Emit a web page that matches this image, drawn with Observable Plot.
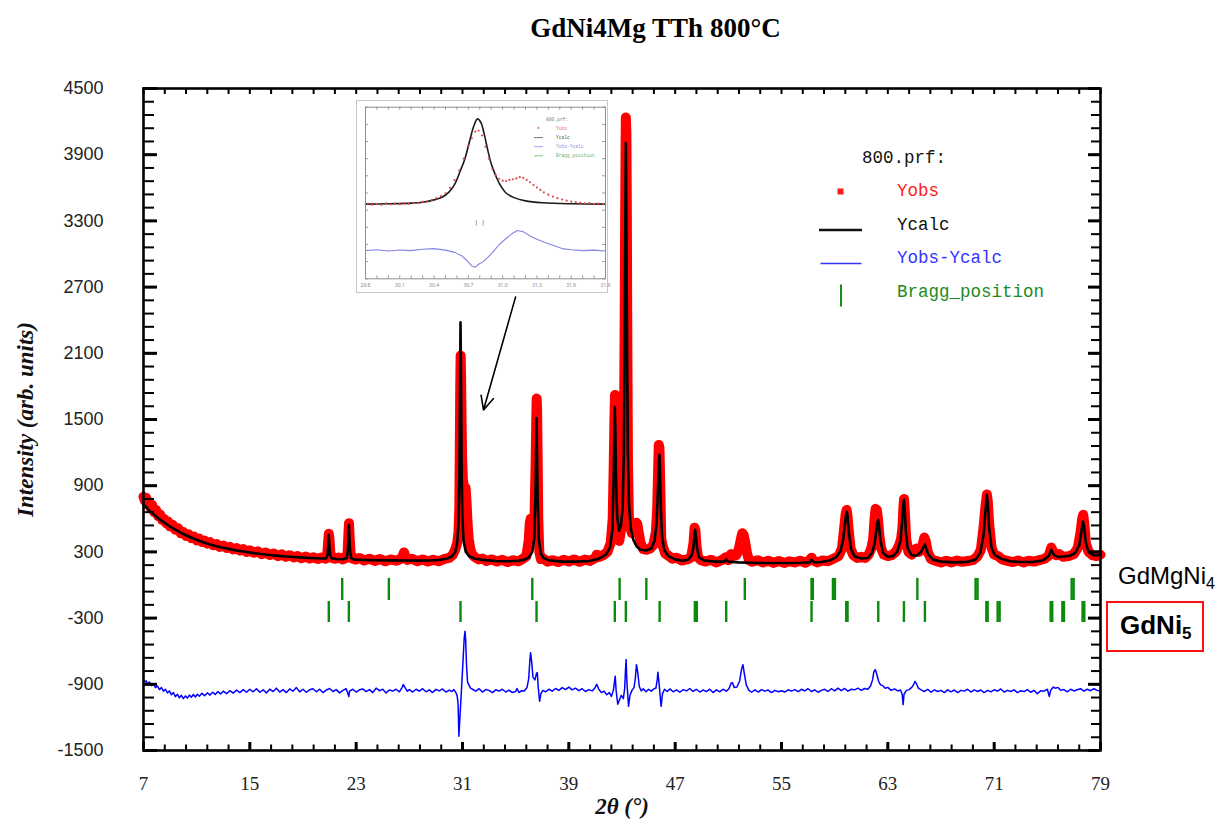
<!DOCTYPE html>
<html><head><meta charset="utf-8">
<script src="https://cdn.jsdelivr.net/npm/d3@7"></script>
<script src="https://cdn.jsdelivr.net/npm/@observablehq/plot@0.6"></script>
<style>
body{margin:0;background:#fff;}
#wrap{position:relative;width:1229px;height:827px;overflow:hidden;background:#fff;}
#main{position:absolute;left:0;top:0;}
#inset{position:absolute;left:356px;top:100px;width:250px;height:191px;border:1px solid #c8c8c8;background:#fff;}
#overlay{position:absolute;left:0;top:0;pointer-events:none;}
</style></head><body>
<div id="wrap"><div id="main"></div><div id="inset"></div><svg id="overlay" width="1229" height="827"></svg></div>
<script>
// ---------- data ----------
const title = "GdNi4Mg TTh 800°C";
const yLabel = "Intensity (arb. units)";
const xLabel = "2θ (°)";
const xTicks = [7, 15, 23, 31, 39, 47, 55, 63, 71, 79];
const yTicks = [-1500, -900, -300, 300, 900, 1500, 2100, 2700, 3300, 3900, 4500];

// observed intensity [2theta, counts]
const yobs = [[7.0,800],[7.1,765],[7.2,790],[7.3,730],[7.4,755],[7.5,705],[7.65,725],[7.8,660],[7.95,680],[8.1,625],[8.25,640],[8.4,590],[8.55,600],[8.7,560],[8.85,575],[9.0,530],[9.2,545],[9.4,500],[9.6,515],[9.8,470],[10.0,480],[10.2,445],[10.4,458],[10.6,425],[10.8,438],[11.0,405],[11.2,420],[11.4,390],[11.6,402],[11.8,375],[12.0,388],[12.25,360],[12.5,372],[12.75,345],[13.0,358],[13.25,335],[13.5,346],[13.75,322],[14.0,335],[14.25,312],[14.5,325],[14.75,300],[15.0,315],[15.3,292],[15.6,305],[15.9,280],[16.2,295],[16.5,272],[16.8,285],[17.1,262],[17.4,278],[17.7,255],[18.0,270],[18.3,250],[18.6,262],[18.9,242],[19.2,258],[19.5,240],[19.8,252],[20.1,235],[20.4,250],[20.7,238],
[20.82,270],[20.9,400],[20.94,465],[20.99,420],[21.05,300],[21.15,248],[21.4,238],[21.7,250],[22.0,232],[22.25,245],[22.36,300],[22.42,470],[22.46,560],[22.51,430],[22.58,290],[22.7,240],[22.95,230],[23.25,245],[23.6,222],[24.0,238],[24.4,218],[24.8,235],[25.2,215],[25.6,232],[26.0,220],[26.35,235],[26.5,265],[26.6,295],[26.7,260],[26.85,228],[27.2,238],[27.6,215],[28.0,232],[28.4,212],[28.8,228],[29.2,215],[29.6,235],[30.0,245],[30.25,270],[30.45,320],[30.6,380],[30.7,480],[30.76,700],[30.8,1300],[30.83,1800],[30.86,2080],[30.89,1900],[30.93,1500],[30.97,1150],[31.03,950],[31.1,900],[31.17,870],[31.23,880],[31.3,760],[31.38,560],[31.47,420],[31.58,330],[31.7,285],[31.9,255],[32.2,232],[32.5,240],[32.8,218],[33.2,232],[33.6,212],[34.0,228],[34.4,208],[34.8,225],[35.2,215],[35.5,235],[35.8,260],[35.98,400],[36.06,560],[36.13,600],[36.22,560],[36.32,500],[36.42,620],[36.5,1100],[36.55,1500],[36.58,1690],[36.61,1600],[36.65,1200],[36.7,600],[36.78,300],[36.9,235],[37.1,238],[37.4,212],[37.8,225],[38.2,208],[38.6,228],[39.0,212],[39.4,232],[39.8,210],[40.2,230],[40.6,218],[41.0,245],[41.1,275],[41.3,255],[41.6,270],[41.9,300],[42.15,380],[42.3,600],[42.38,1100],[42.43,1500],[42.47,1722],[42.5,1650],[42.55,1300],[42.62,700],[42.7,420],[42.8,400],[42.95,520],[43.07,700],[43.15,1300],[43.2,2400],[43.24,3400],[43.27,4000],[43.29,4237],[43.31,4160],[43.33,4100],[43.36,3500],[43.4,2200],[43.45,1100],[43.52,600],[43.62,520],[43.75,470],[43.9,480],[44.0,530],[44.08,565],[44.15,555],[44.25,480],[44.4,380],[44.6,325],[44.85,320],[45.1,330],[45.35,360],[45.55,480],[45.65,700],[45.72,1050],[45.77,1270],[45.82,1240],[45.88,900],[45.95,420],[46.05,360],[46.25,285],[46.5,265],[46.8,238],[47.1,248],[47.5,222],[47.9,232],[48.2,250],[48.38,380],[48.46,520],[48.52,500],[48.6,360],[48.72,250],[48.95,225],[49.3,212],[49.7,228],[50.1,205],[50.5,225],[50.8,250],[51.0,225],[51.2,280],[51.35,265],[51.6,270],[51.8,330],[51.95,420],[52.05,470],[52.15,455],[52.28,380],[52.4,290],[52.55,225],[52.8,210],[53.2,225],[53.6,205],[54.0,220],[54.4,200],[54.8,218],[55.2,200],[55.6,215],[56.0,205],[56.4,220],[56.8,202],[57.1,225],[57.26,248],[57.4,220],[57.7,205],[58.1,222],[58.5,215],[58.9,238],[59.3,262],[59.55,330],[59.72,520],[59.82,640],[59.9,680],[59.97,620],[60.05,500],[60.2,330],[60.4,270],[60.7,245],[61.0,255],[61.3,245],[61.55,275],[61.75,330],[61.9,420],[62.0,600],[62.08,690],[62.17,680],[62.26,600],[62.36,450],[62.5,330],[62.7,275],[63.0,262],[63.3,270],[63.6,300],[63.85,360],[64.0,420],[64.1,520],[64.17,700],[64.22,780],[64.28,660],[64.38,420],[64.55,300],[64.8,275],[65.0,320],[65.15,330],[65.35,300],[65.6,360],[65.75,430],[65.85,400],[66.0,300],[66.25,235],[66.6,218],[67.0,205],[67.4,220],[67.8,205],[68.2,222],[68.6,210],[69.0,218],[69.4,225],[69.75,260],[70.0,320],[70.2,520],[70.35,720],[70.45,820],[70.52,760],[70.62,560],[70.8,340],[71.0,275],[71.3,262],[71.6,232],[72.0,218],[72.4,208],[72.8,222],[73.2,205],[73.6,220],[74.0,212],[74.4,225],[74.8,238],[75.1,265],[75.3,340],[75.45,300],[75.65,270],[75.9,280],[76.2,255],[76.6,262],[77.0,280],[77.3,340],[77.5,480],[77.62,600],[77.7,636],[77.78,560],[77.9,380],[78.1,300],[78.4,270],[78.7,262],[79.0,275]];

// calculated profile [2theta, counts]
const ycalc = [[7.0,730],[7.5,668],[8.0,615],[8.5,570],[9.0,530],[9.5,495],[10.0,462],[10.5,435],[11.0,410],[11.5,388],[12.0,368],[12.5,352],[13.0,338],[13.5,325],[14.0,313],[14.5,303],[15.0,294],[15.5,286],[16.0,279],[16.5,272],[17.0,266],[17.5,261],[18.0,256],[18.5,252],[19.0,248],[19.5,245],[20.0,242],[20.5,240],[20.75,241],[20.84,270],[20.9,360],[20.94,455],[20.98,360],[21.04,270],[21.15,242],[21.5,236],[22.0,234],[22.3,245],[22.38,320],[22.42,430],[22.45,545],[22.49,430],[22.54,320],[22.62,245],[22.8,232],[23.5,228],[24.5,225],[25.5,223],[26.5,222],[27.5,221],[28.5,222],[29.2,226],[29.8,238],[30.2,258],[30.45,300],[30.6,380],[30.7,560],[30.77,1000],[30.81,1700],[30.85,2380],[30.89,1800],[30.93,1100],[30.99,620],[31.08,400],[31.25,300],[31.5,260],[31.9,240],[32.5,228],[33.5,218],[34.5,215],[35.2,220],[35.7,232],[36.0,250],[36.25,300],[36.4,420],[36.49,800],[36.54,1250],[36.57,1512],[36.6,1250],[36.65,800],[36.74,420],[36.88,290],[37.1,245],[37.5,225],[38.5,212],[39.5,212],[40.5,218],[41.2,235],[41.8,275],[42.1,340],[42.28,500],[42.38,1000],[42.43,1400],[42.46,1612],[42.5,1400],[42.56,900],[42.65,600],[42.78,490],[42.92,540],[43.05,700],[43.14,1200],[43.2,2200],[43.25,3300],[43.29,4005],[43.33,3300],[43.38,2200],[43.44,1200],[43.53,720],[43.68,500],[43.85,410],[44.1,350],[44.4,320],[44.8,312],[45.2,330],[45.45,400],[45.6,560],[45.7,850],[45.77,1100],[45.82,1180],[45.87,1000],[45.93,650],[46.02,430],[46.2,310],[46.5,262],[47.0,232],[47.6,220],[48.0,232],[48.25,270],[48.38,350],[48.46,470],[48.5,500],[48.56,450],[48.65,330],[48.8,250],[49.2,222],[50.0,212],[50.7,212],[50.84,232],[51.0,212],[51.8,205],[52.5,202],[53.5,200],[54.5,200],[55.5,200],[56.5,202],[57.1,205],[57.26,228],[57.45,205],[58.0,208],[58.6,222],[59.1,250],[59.45,310],[59.65,420],[59.78,560],[59.86,640],[59.92,663],[59.98,610],[60.08,460],[60.25,320],[60.5,260],[61.0,240],[61.5,245],[61.8,290],[62.0,370],[62.12,480],[62.2,560],[62.28,590],[62.34,530],[62.45,400],[62.65,290],[63.0,255],[63.4,262],[63.7,300],[63.95,400],[64.08,580],[64.16,720],[64.21,772],[64.27,680],[64.36,480],[64.5,330],[64.8,268],[65.2,268],[65.5,300],[65.68,340],[65.79,365],[65.88,335],[66.05,275],[66.4,230],[67.0,212],[68.0,205],[69.0,210],[69.6,230],[69.95,290],[70.2,450],[70.35,680],[70.45,817],[70.52,740],[70.62,520],[70.8,340],[71.05,270],[71.3,255],[71.6,235],[72.2,215],[73.0,208],[74.0,210],[74.7,225],[75.1,260],[75.3,318],[75.5,270],[75.8,255],[76.2,258],[76.7,265],[77.1,290],[77.4,360],[77.58,500],[77.68,572],[77.76,530],[77.9,380],[78.1,300],[78.5,268],[79.0,272]];

// Yobs - Ycalc (plotted with offset) [2theta, counts]
const ydiff = [[7.0,-860],[7.1,-880],[7.2,-868],[7.3,-895],[7.45,-880],[7.6,-912],[7.75,-898],[7.9,-930],[8.05,-915],[8.2,-948],[8.35,-930],[8.5,-962],[8.65,-945],[8.8,-978],[8.95,-960],[9.1,-995],[9.25,-975],[9.4,-1012],[9.55,-990],[9.7,-1022],[9.85,-1000],[10.0,-1030],[10.15,-1005],[10.3,-1025],[10.45,-998],[10.6,-1018],[10.75,-992],[10.9,-1015],[11.05,-990],[11.2,-1008],[11.4,-982],[11.6,-1003],[11.8,-978],[12.0,-998],[12.2,-972],[12.4,-992],[12.6,-966],[12.8,-988],[13.0,-962],[13.25,-985],[13.5,-958],[13.75,-980],[14.0,-952],[14.25,-975],[14.5,-948],[14.75,-972],[15.0,-945],[15.25,-968],
[15.5,-940],[15.75,-972],[16.0,-950],[16.25,-978],[16.5,-944],[16.75,-966],[17.0,-935],[17.25,-970],[17.5,-948],[17.75,-975],[18.0,-942],[18.25,-962],[18.5,-930],[18.75,-968],[19.0,-945],[19.25,-972],[19.5,-950],[19.75,-940],[20.0,-968],[20.25,-945],[20.5,-975],[20.75,-952],[21.0,-938],[21.25,-965],[21.5,-948],[21.75,-978],[22.0,-955],[22.25,-940],[22.45,-1010],[22.5,-962],[22.75,-945],[23.0,-970],[23.25,-950],[23.5,-942],[23.75,-966],[24.0,-948],[24.25,-975],[24.5,-935],[24.75,-958],[25.0,-944],[25.25,-978],[25.5,-952],[25.75,-962],[26.0,-945],[26.25,-968],[26.45,-930],[26.55,-903],[26.7,-935],[26.85,-962],
[27.0,-948],[27.25,-970],[27.5,-945],[27.75,-962],[28.0,-940],[28.25,-968],[28.5,-950],[28.75,-975],[29.0,-946],[29.25,-960],[29.5,-942],[29.75,-970],[30.0,-952],[30.2,-966],[30.35,-948],[30.5,-975],[30.6,-1005],[30.67,-1080],[30.73,-1370],[30.78,-1250],[30.84,-1130],[30.9,-1000],[30.98,-820],[31.06,-640],[31.13,-480],[31.19,-420],[31.24,-500],[31.3,-720],[31.38,-880],[31.48,-905],[31.6,-935],[31.75,-945],
[32.0,-962],[32.25,-940],[32.5,-970],[32.75,-948],[33.0,-955],[33.25,-975],[33.5,-950],[33.75,-962],[34.0,-945],[34.25,-970],[34.5,-952],[34.75,-975],[35.0,-965],[35.1,-938],[35.25,-975],[35.45,-958],[35.65,-960],[35.85,-930],[35.98,-850],[36.06,-700],[36.12,-613],[36.2,-690],[36.3,-835],[36.45,-860],[36.57,-800],[36.63,-794],[36.7,-930],[36.8,-1054],[36.9,-985],[37.05,-955],[37.25,-968],
[37.5,-945],[37.75,-962],[38.0,-938],[38.25,-955],[38.5,-930],[38.75,-948],[39.0,-925],[39.25,-950],[39.5,-935],[39.75,-958],[40.0,-940],[40.25,-965],[40.5,-948],[40.75,-960],[40.95,-935],[41.1,-900],[41.25,-945],[41.45,-975],[41.65,-962],[41.85,-995],[42.05,-975],[42.2,-1010],[42.35,-955],[42.49,-828],[42.56,-960],[42.68,-1080],[42.8,-1045],[42.95,-1000],[43.1,-1030],[43.2,-940],[43.26,-780],[43.31,-676],[43.37,-880],[43.49,-1100],[43.6,-1000],[43.75,-955],[43.9,-930],[44.0,-850],[44.09,-722],[44.18,-790],[44.3,-920],[44.45,-960],[44.6,-940],[44.8,-968],[45.0,-945],[45.2,-962],[45.4,-940],[45.55,-935],[45.65,-860],[45.7,-790],[45.78,-880],[45.94,-1100],[46.05,-985],[46.2,-945],[46.4,-965],
[46.6,-942],[46.85,-968],[47.1,-950],[47.35,-972],[47.6,-948],[47.85,-960],[48.1,-938],[48.35,-965],[48.6,-945],[48.85,-970],[49.1,-952],[49.35,-966],[49.6,-944],[49.85,-975],[50.1,-950],[50.35,-968],[50.6,-945],[50.85,-962],[51.05,-940],[51.2,-890],[51.3,-885],[51.45,-930],[51.65,-925],[51.85,-870],[52.0,-760],[52.1,-722],[52.2,-800],[52.35,-905],[52.55,-955],[52.75,-972],[53.0,-950],
[53.25,-970],[53.5,-948],[53.75,-962],[54.0,-952],[54.25,-975],[54.5,-955],[54.75,-968],[55.0,-958],[55.25,-970],[55.5,-950],[55.75,-962],[56.0,-948],[56.25,-966],[56.5,-945],[56.75,-960],[57.0,-940],[57.25,-965],[57.5,-950],[57.75,-972],[58.0,-955],[58.25,-945],[58.5,-965],[58.75,-940],[59.0,-960],[59.25,-935],[59.5,-958],[59.75,-938],[60.0,-962],[60.25,-945],[60.5,-950],[60.75,-935],[61.0,-955],[61.25,-938],[61.5,-945],[61.7,-915],[61.85,-860],[61.95,-785],[62.05,-767],[62.15,-800],[62.3,-870],[62.45,-905],[62.6,-910],[62.8,-935],[63.0,-928],[63.25,-955],[63.5,-942],[63.75,-960],[63.95,-952],[64.08,-990],[64.15,-1084],[64.22,-990],[64.4,-955],[64.6,-948],[64.8,-928],[64.95,-900],[65.05,-873],[65.15,-895],[65.3,-935],[65.5,-950],[65.75,-965],
[66.0,-945],[66.25,-972],[66.5,-950],[66.75,-965],[67.0,-955],[67.25,-975],[67.5,-950],[67.75,-968],[68.0,-952],[68.25,-975],[68.5,-955],[68.75,-962],[69.0,-945],[69.25,-970],[69.5,-950],[69.75,-965],[70.0,-952],[70.25,-975],[70.5,-955],[70.75,-968],[71.0,-950],[71.25,-962],[71.5,-942],[71.75,-970],[72.0,-955],[72.25,-965],[72.5,-950],[72.75,-975],[73.0,-958],[73.25,-966],[73.5,-948],[73.75,-972],[74.0,-955],[74.25,-985],[74.5,-958],[74.75,-962],[75.0,-945],[75.15,-1010],[75.25,-955],[75.45,-925],[75.6,-935],[75.8,-928],[76.0,-955],[76.25,-948],[76.5,-968],[76.75,-945],[77.0,-960],[77.25,-950],[77.5,-940],[77.75,-962],[78.0,-945],[78.25,-958],[78.5,-940],[78.75,-955],[79.0,-962]];

// Bragg positions (2theta)
const braggGdMgNi4 = [21.95,25.46,36.25,42.82,44.83,52.24,57.26,57.36,58.87,59.02,65.22,69.6,69.75,76.83,76.98];
const braggGdNi5 = [20.94,22.45,30.85,36.57,42.46,43.29,45.83,48.48,48.63,50.84,57.26,59.87,59.97,62.28,64.21,65.79,70.41,70.51,71.26,71.41,75.25,75.37,76.13,76.25,77.65,77.78];
const phaseNames = ["GdMgNi", "4", "GdNi", "5"];

// arrow annotation (data coordinates)
const arrowAnno = [{x1: 34.99, y1: 2609, x2: 32.58, y2: 1586}];

// legend
const legendTitle = "800.prf:";
const legendItems = [
  {label: "Yobs", color: "#ff1a1a", kind: "dot"},
  {label: "Ycalc", color: "#111111", kind: "line"},
  {label: "Yobs-Ycalc", color: "#3434ff", kind: "thin"},
  {label: "Bragg_position", color: "#1d8a1d", kind: "tick"}
];

// inset (zoom around 31°), arbitrary units
const insetXTicks = [29.8, 30.1, 30.4, 30.7, 31.0, 31.3, 31.6, 31.9];
const insetCalc = [[29.8,43.5],[30.0,43.7],[30.2,44.1],[30.3,44.6],[30.4,46],[30.47,47.5],[30.53,50.5],[30.58,55],[30.63,63],[30.67,70],[30.71,80],[30.75,89.5],[30.78,93.2],[30.81,91],[30.84,84],[30.87,75],[30.9,67],[30.94,60],[30.98,54.5],[31.03,50],[31.1,47.3],[31.2,45.4],[31.35,44.3],[31.6,43.7],[31.9,43.5]];
const insetObs = [[29.82,43.8],[29.86,43.2],[29.9,43.6],[29.94,43.1],[29.98,43.9],[30.02,43.4],[30.06,43.8],[30.1,43.5],[30.14,44.0],[30.18,43.7],[30.22,44.3],[30.26,44.1],[30.3,44.8],[30.34,45.2],[30.38,45.9],[30.42,47.0],[30.46,48.2],[30.5,49.8],[30.54,53],[30.58,57.5],[30.62,63],[30.66,70],[30.7,77.5],[30.73,82],[30.76,85.8],[30.79,86.4],[30.82,83.5],[30.85,77],[30.88,70],[30.91,64],[30.94,60.5],[30.97,58.3],[31.0,57.2],[31.03,57.0],[31.06,57.6],[31.09,58.0],[31.12,58.5],[31.15,59.2],[31.18,58.8],[31.21,57.6],[31.24,56.2],[31.27,54.6],[31.3,53.2],[31.33,51.8],[31.36,50.4],[31.4,49.0],[31.44,47.9],[31.48,47.0],[31.52,46.2],[31.56,45.5],[31.6,45.0],[31.64,44.6],[31.68,44.3],[31.72,44.0],[31.76,44.1],[31.8,43.7],[31.84,43.8],[31.88,43.5]];
const insetDiff = [[29.8,16.5],[29.9,16.9],[30.0,16.2],[30.1,16.8],[30.2,16.4],[30.3,17.2],[30.4,17.6],[30.5,16.7],[30.58,15.4],[30.64,13.5],[30.69,10.5],[30.73,7.5],[30.76,6.8],[30.79,8.5],[30.83,10],[30.87,12.5],[30.92,16],[30.97,20],[31.03,23.5],[31.08,26.2],[31.13,28.1],[31.18,27.4],[31.24,25],[31.3,23],[31.37,21.2],[31.44,19.5],[31.52,17.6],[31.6,16.9],[31.7,16.4],[31.8,16.7],[31.9,16.2]];
const insetBragg = [30.77, 30.83];
const insetLegendItems = [
  {label: "Yobs", color: "#e07070"},
  {label: "Ycalc", color: "#555555"},
  {label: "Yobs-Ycalc", color: "#8a8ae8"},
  {label: "Bragg_position", color: "#70b070"}
];

// ---------- main chart ----------
const W = 1229, H = 827, ML = 143, MR = 129, MT = 88, MB = 77;
const PW = W - ML - MR, PH = H - MT - MB;
const xMinor = d3.range(7, 79.001, 1.6);
const yMinor = d3.range(-1500, 4500.1, 120);
const green = "#0b8a0b";
const X = d => d[0], Y = d => d[1];
const serif = "Liberation Serif, Times New Roman, serif";

const mainChart = Plot.plot({
  width: W, height: H,
  marginLeft: ML, marginRight: MR, marginTop: MT, marginBottom: MB,
  style: {background: "#fff", overflow: "visible"},
  x: {domain: [7, 79]},
  y: {domain: [-1500, 4500]},
  marks: [
    Plot.line(yobs, {x: X, y: Y, stroke: "#ff0000", strokeWidth: 10, strokeLinejoin: "round", strokeLinecap: "round"}),
    Plot.dot(yobs, {x: X, y: Y, symbol: "square", r: 3.4, fill: "#ff0000"}),
    Plot.line(ycalc, {x: X, y: Y, stroke: "#000", strokeWidth: 2.6}),
    Plot.line(ydiff, {x: X, y: Y, stroke: "#0000ff", strokeWidth: 1.5}),
    Plot.ruleX(braggGdMgNi4, {x: d => d, y1: -140, y2: 60, stroke: green, strokeWidth: 2.4}),
    Plot.ruleX(braggGdNi5, {x: d => d, y1: -340, y2: -150, stroke: green, strokeWidth: 2.4}),
    // ticks pointing inward
    Plot.tickY(yMinor, {y: d => d, insetRight: PW - 11, stroke: "#000", strokeWidth: 2}),
    Plot.tickY(yTicks, {y: d => d, insetRight: PW - 14, stroke: "#000", strokeWidth: 3}),
    Plot.tickY(yMinor, {y: d => d, insetLeft: PW - 9, stroke: "#000", strokeWidth: 2}),
    Plot.tickY(yTicks, {y: d => d, insetLeft: PW - 12, stroke: "#000", strokeWidth: 3}),
    Plot.tickX(xMinor, {x: d => d, insetTop: PH - 5.5, stroke: "#000", strokeWidth: 2}),
    Plot.tickX(xTicks, {x: d => d, insetTop: PH - 8, stroke: "#000", strokeWidth: 3}),
    Plot.tickX(xMinor, {x: d => d, insetBottom: PH - 6, stroke: "#000", strokeWidth: 2}),
    Plot.frame({stroke: "#000", strokeWidth: 2.6}),
    Plot.axisY(yTicks, {anchor: "left", tickSize: 0, tickPadding: 40, fontSize: 18, fontFamily: "Liberation Sans, Arial, sans-serif", fill: "#222", label: null, tickFormat: d => String(d)}),
    Plot.axisX(xTicks, {anchor: "bottom", tickSize: 0, tickPadding: 26, fontSize: 19, fontFamily: serif, fill: "#222", label: null, tickFormat: d => String(d)}),
    Plot.arrow(arrowAnno, {x1: "x1", y1: "y1", x2: "x2", y2: "y2", stroke: "#000", strokeWidth: 1.6, headLength: 14, headAngle: 50}),
    Plot.text([title], {frameAnchor: "top", dx: 33.5, dy: -52, lineAnchor: "bottom", fontSize: 27, fontWeight: "bold", fontFamily: serif, fill: "#000"}),
    Plot.text([yLabel], {frameAnchor: "left", textAnchor: "middle", dx: -118, rotate: -90, fontSize: 23, fontWeight: "bold", fontStyle: "italic", fontFamily: serif, fill: "#111"}),
    Plot.text([xLabel], {frameAnchor: "bottom", dy: 63, lineAnchor: "bottom", fontSize: 23, fontWeight: "bold", fontStyle: "italic", fontFamily: serif, fill: "#111"})
  ]
});
document.getElementById("main").appendChild(mainChart);

// ---------- inset ----------
const IW = 250, IH = 191, IML = 8, IMR = 2, IMT = 5.7, IMB = 13.7;
const IPW = IW - IML - IMR, IPH = IH - IMT - IMB;
const insetChart = Plot.plot({
  width: IW, height: IH, marginLeft: IML, marginRight: IMR, marginTop: IMT, marginBottom: IMB,
  style: {background: "#fff", overflow: "visible"},
  x: {domain: [29.8, 31.9]},
  y: {domain: [0, 100], axis: null},
  marks: [
    Plot.tickX(d3.range(29.8, 31.95, 0.1), {x: d => d, insetTop: IPH - 3, stroke: "#999"}),
    Plot.tickX(d3.range(29.8, 31.95, 0.1), {x: d => d, insetBottom: IPH - 3, stroke: "#999"}),
    Plot.tickY(d3.range(0, 101, 10), {y: d => d, insetRight: IPW - 3, stroke: "#999"}),
    Plot.tickY(d3.range(0, 101, 10), {y: d => d, insetLeft: IPW - 3, stroke: "#999"}),
    Plot.line(insetCalc, {x: X, y: Y, curve: "catmull-rom", stroke: "#1a1a1a", strokeWidth: 1.6}),
    Plot.dot(insetObs, {x: X, y: Y, r: 1.1, fill: "#e04848"}),
    Plot.line(insetDiff, {x: X, y: Y, stroke: "#8383e6", strokeWidth: 1.1}),
    Plot.ruleX(insetBragg, {x: d => d, y1: 30.5, y2: 34, stroke: "#aaa", strokeWidth: 1}),
    Plot.frame({stroke: "#8f8f8f", strokeWidth: 1}),
    Plot.axisX(insetXTicks, {anchor: "bottom", tickSize: 0, tickPadding: 5, fontSize: 5, fill: "#888", label: null, tickFormat: d => d.toFixed(1)})
  ]
});
document.getElementById("inset").appendChild(insetChart);

// ---------- legend & phase labels ----------
const ov = d3.select("#overlay");
const mono = "Liberation Mono, DejaVu Sans Mono, monospace";
ov.append("text").attr("x", 862).attr("y", 163).attr("font-family", mono).attr("font-size", 17.5).attr("fill", "#111").text(legendTitle);
legendItems.forEach((it, i) => {
  const yb = 196 + i * 33.5;
  const yc = yb - 5;
  if (it.kind === "dot") ov.append("rect").attr("x", 837.5).attr("y", yc - 2.5).attr("width", 6).attr("height", 6).attr("fill", it.color);
  if (it.kind === "line") ov.append("line").attr("x1", 819).attr("x2", 862).attr("y1", yc + 5.5).attr("y2", yc + 5.5).attr("stroke", it.color).attr("stroke-width", 2.6);
  if (it.kind === "thin") ov.append("line").attr("x1", 820.5).attr("x2", 861.5).attr("y1", yc + 5.5).attr("y2", yc + 5.5).attr("stroke", it.color).attr("stroke-width", 1.5);
  if (it.kind === "tick") ov.append("line").attr("x1", 841).attr("x2", 841).attr("y1", yc - 7).attr("y2", yc + 15).attr("stroke", it.color).attr("stroke-width", 2);
  ov.append("text").attr("x", 897).attr("y", yb).attr("font-family", mono).attr("font-size", 17.5).attr("fill", it.color).text(it.label);
});

// inset legend (tiny)
ov.append("text").attr("x", 546).attr("y", 121).attr("font-family", mono).attr("font-size", 4.6).attr("fill", "#777").text(legendTitle);
insetLegendItems.forEach((it, i) => {
  const yb = 130 + i * 9.1;
  ov.append("line").attr("x1", 534).attr("x2", 543).attr("y1", yb - 1.5).attr("y2", yb - 1.5).attr("stroke", it.color).attr("stroke-width", i === 0 ? 0 : 0.8);
  if (i === 0) ov.append("rect").attr("x", 537.5).attr("y", yb - 3).attr("width", 1.8).attr("height", 1.8).attr("fill", it.color);
  ov.append("text").attr("x", 556).attr("y", yb).attr("font-family", mono).attr("font-size", 4.6).attr("fill", it.color).text(it.label);
});

// phase labels at right
const sans = "Liberation Sans, Arial, sans-serif";
const t1 = ov.append("text").attr("x", 1118).attr("y", 584).attr("font-family", sans).attr("font-size", 24).attr("fill", "#000");
t1.append("tspan").text(phaseNames[0]);
t1.append("tspan").attr("font-size", 16).attr("dy", 5).text(phaseNames[1]);
ov.append("rect").attr("x", 1107).attr("y", 602).attr("width", 96).attr("height", 49).attr("fill", "none").attr("stroke", "#ff1010").attr("stroke-width", 2);
const t2 = ov.append("text").attr("x", 1120).attr("y", 634).attr("font-family", sans).attr("font-size", 26).attr("font-weight", "bold").attr("fill", "#000");
t2.append("tspan").text(phaseNames[2]);
t2.append("tspan").attr("font-size", 17).attr("dy", 5).text(phaseNames[3]);
</script></body></html>
